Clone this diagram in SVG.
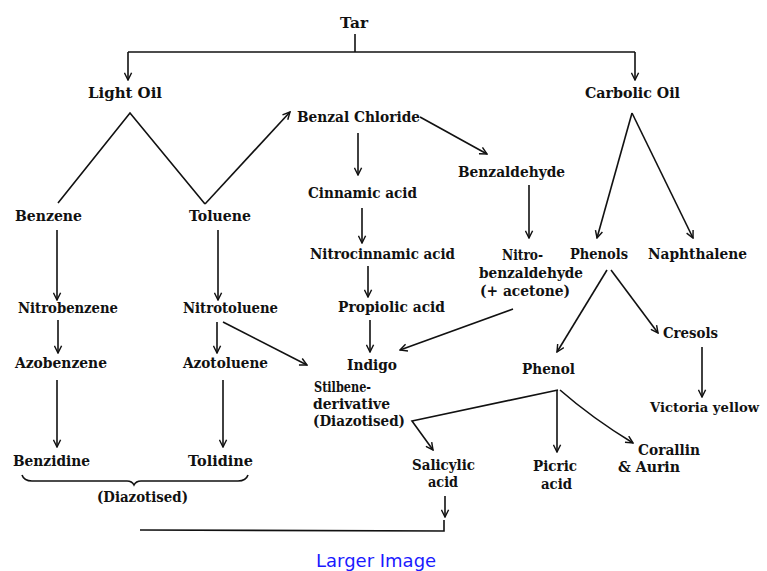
<svg xmlns="http://www.w3.org/2000/svg" width="767" height="571" viewBox="0 0 767 571">
<style>
text{font-family:"DejaVu Serif","Liberation Serif",serif;font-size:15px;fill:#111;font-weight:bold}
.c line,.c polyline,.c path{stroke:#111;stroke-width:1.6;fill:none}
.a{marker-end:url(#ah)}
.link{font-family:"DejaVu Sans","Liberation Sans",sans-serif;font-size:18px;fill:#1a1aff;font-weight:normal}
</style>
<defs>
<marker id="ah" viewBox="0 0 10 10" refX="9" refY="5" markerWidth="9" markerHeight="9" markerUnits="userSpaceOnUse" orient="auto">
<path d="M1,1 L9,5 L1,9" fill="none" stroke="#111" stroke-width="1.6"/>
</marker>
</defs>
<rect width="767" height="571" fill="#fff"/>
<g class="c" id="connectors">
<line x1="355" y1="34" x2="355" y2="52"/>
<line x1="128" y1="52" x2="635" y2="52"/>
<line class="a" x1="128" y1="52" x2="128" y2="80"/>
<line class="a" x1="635" y1="52" x2="635" y2="80"/>
<polyline points="58,203 130,113 205,204"/>
<line class="a" x1="205" y1="204" x2="290" y2="112"/>
<line class="a" x1="420" y1="117" x2="487" y2="154"/>
<line class="a" x1="358" y1="133" x2="358" y2="175"/>
<line class="a" x1="529" y1="185" x2="529" y2="238"/>
<line class="a" x1="632" y1="113" x2="597" y2="238"/>
<line class="a" x1="632" y1="113" x2="693" y2="238"/>
<line class="a" x1="362" y1="208" x2="362" y2="243"/>
<line class="a" x1="368" y1="266" x2="368" y2="297"/>
<line class="a" x1="370" y1="320" x2="370" y2="352"/>
<line class="a" x1="513" y1="309" x2="400" y2="350"/>
<line class="a" x1="57" y1="230" x2="57" y2="300"/>
<line class="a" x1="218" y1="230" x2="218" y2="300"/>
<line class="a" x1="58" y1="320" x2="58" y2="353"/>
<line class="a" x1="217" y1="322" x2="217" y2="353"/>
<line class="a" x1="223" y1="322" x2="307" y2="365"/>
<line class="a" x1="57" y1="380" x2="57" y2="447"/>
<line class="a" x1="223" y1="380" x2="223" y2="447"/>
<line class="a" x1="607" y1="270" x2="557" y2="352"/>
<line class="a" x1="611" y1="270" x2="658" y2="333"/>
<line class="a" x1="702" y1="347" x2="702" y2="397"/>
<polyline class="a" points="558,390 412,421 433,450"/>
<line class="a" x1="557" y1="390" x2="557" y2="452"/>
<path class="a" d="M560,390 Q592,418 633,443"/>
<line class="a" x1="445" y1="496" x2="445" y2="517"/>
<polyline points="140,530 444,531 444,520"/>
<path d="M22,475 Q24,481 32,481 L127,481 Q132,481 134,485 Q136,481 141,481 L238,481 Q246,481 248,475"/>
</g>
<g id="n-tar"><text x="340" y="28" textLength="28" lengthAdjust="spacingAndGlyphs">Tar</text></g>
<g id="n-lightoil"><text x="88" y="98" textLength="74" lengthAdjust="spacingAndGlyphs">Light Oil</text></g>
<g id="n-carbolic"><text x="585" y="98" textLength="95" lengthAdjust="spacingAndGlyphs">Carbolic Oil</text></g>
<g id="n-benzalchloride"><text x="297" y="122" textLength="123" lengthAdjust="spacingAndGlyphs">Benzal Chloride</text></g>
<g id="n-benzaldehyde"><text x="458" y="177" textLength="107" lengthAdjust="spacingAndGlyphs">Benzaldehyde</text></g>
<g id="n-cinnamic"><text x="308" y="198" textLength="109" lengthAdjust="spacingAndGlyphs">Cinnamic acid</text></g>
<g id="n-nitrocinnamic"><text x="310" y="259" textLength="145" lengthAdjust="spacingAndGlyphs">Nitrocinnamic acid</text></g>
<g id="n-propiolic"><text x="338" y="312" textLength="107" lengthAdjust="spacingAndGlyphs">Propiolic acid</text></g>
<g id="n-indigo"><text x="347" y="370" textLength="50" lengthAdjust="spacingAndGlyphs">Indigo</text></g>
<g id="n-stilbene">
<text x="314" y="392" textLength="57" lengthAdjust="spacingAndGlyphs">Stilbene-</text>
<text x="313" y="409" textLength="77" lengthAdjust="spacingAndGlyphs">derivative</text>
<text x="313" y="426" textLength="92" lengthAdjust="spacingAndGlyphs">(Diazotised)</text>
</g>
<g id="n-nitrobenzaldehyde">
<text x="502" y="260" textLength="41" lengthAdjust="spacingAndGlyphs">Nitro-</text>
<text x="479" y="278" textLength="104" lengthAdjust="spacingAndGlyphs">benzaldehyde</text>
<text x="480" y="296" textLength="90" lengthAdjust="spacingAndGlyphs">(+ acetone)</text>
</g>
<g id="n-phenols"><text x="570" y="259" textLength="58" lengthAdjust="spacingAndGlyphs">Phenols</text></g>
<g id="n-naphthalene"><text x="648" y="259" textLength="99" lengthAdjust="spacingAndGlyphs">Naphthalene</text></g>
<g id="n-cresols"><text x="663" y="338" textLength="55" lengthAdjust="spacingAndGlyphs">Cresols</text></g>
<g id="n-victoria"><text x="650" y="412" style="font-size:13px" textLength="109" lengthAdjust="spacingAndGlyphs">Victoria yellow</text></g>
<g id="n-phenol"><text x="522" y="374" textLength="53" lengthAdjust="spacingAndGlyphs">Phenol</text></g>
<g id="n-salicylic">
<text x="412" y="470" textLength="63" lengthAdjust="spacingAndGlyphs">Salicylic</text>
<text x="428" y="487" textLength="30" lengthAdjust="spacingAndGlyphs">acid</text>
</g>
<g id="n-picric">
<text x="533" y="471" textLength="44" lengthAdjust="spacingAndGlyphs">Picric</text>
<text x="541" y="489" textLength="31" lengthAdjust="spacingAndGlyphs">acid</text>
</g>
<g id="n-corallin">
<text x="638" y="455" textLength="62" lengthAdjust="spacingAndGlyphs">Corallin</text>
<text x="618" y="472" textLength="62" lengthAdjust="spacingAndGlyphs">&amp; Aurin</text>
</g>
<g id="n-benzene"><text x="15" y="221" textLength="67" lengthAdjust="spacingAndGlyphs">Benzene</text></g>
<g id="n-toluene"><text x="189" y="221" textLength="62" lengthAdjust="spacingAndGlyphs">Toluene</text></g>
<g id="n-nitrobenzene"><text x="18" y="313" textLength="100" lengthAdjust="spacingAndGlyphs">Nitrobenzene</text></g>
<g id="n-nitrotoluene"><text x="183" y="313" textLength="95" lengthAdjust="spacingAndGlyphs">Nitrotoluene</text></g>
<g id="n-azobenzene"><text x="15" y="368" textLength="92" lengthAdjust="spacingAndGlyphs">Azobenzene</text></g>
<g id="n-azotoluene"><text x="183" y="368" textLength="85" lengthAdjust="spacingAndGlyphs">Azotoluene</text></g>
<g id="n-benzidine"><text x="13" y="466" textLength="77" lengthAdjust="spacingAndGlyphs">Benzidine</text></g>
<g id="n-tolidine"><text x="188" y="466" textLength="65" lengthAdjust="spacingAndGlyphs">Tolidine</text></g>
<g id="n-diazotised"><text x="97" y="502" textLength="91" lengthAdjust="spacingAndGlyphs">(Diazotised)</text></g>
<g id="link"><text class="link" x="316" y="567">Larger Image</text></g>
</svg>
